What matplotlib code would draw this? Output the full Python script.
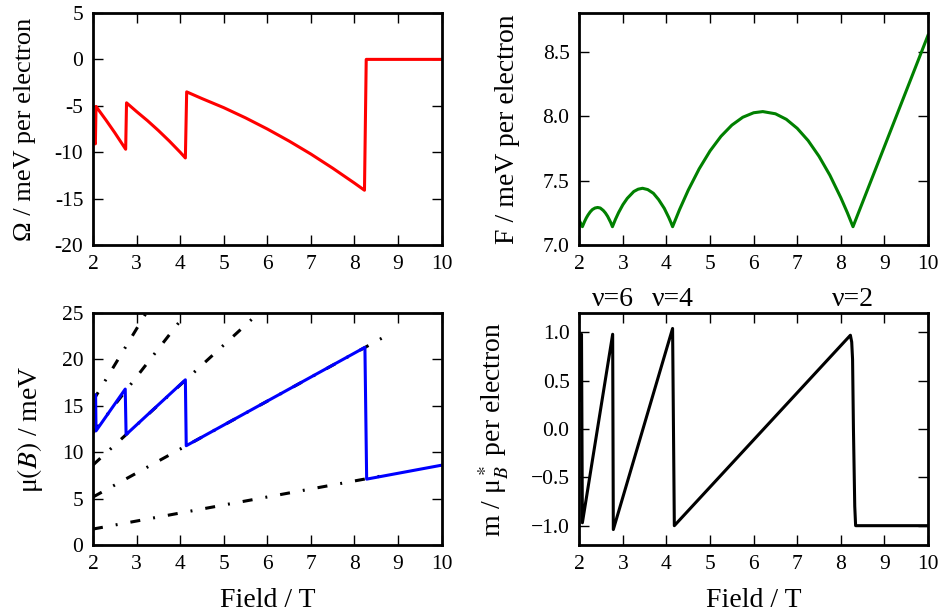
"""
Magneto-oscillations of a 2D electron gas at fixed density:
grand potential, free energy, chemical potential and magnetisation
as a function of the applied field.
"""

import matplotlib

matplotlib.use("Agg")
import matplotlib.pyplot as plt
from matplotlib import ticker


# ---------------------------------------------------------
# Data
# ---------------------------------------------------------
# Grand potential (meV per electron)
omega_field = [2.00, 2.055, 2.07, 2.30, 2.50, 2.75, 2.77, 3.00, 3.25, 3.50, 3.75, 4.00,
               4.12, 4.15, 4.50, 5.00, 5.50, 6.00, 6.50, 7.00, 7.50, 8.00, 8.23, 8.27, 10.0]
omega_vals = [-8.6, -9.1, -5.07, -6.55, -7.90, -9.68, -4.68, -5.62, -6.60, -7.66, -8.79, -10.0,
              -10.62, -3.50, -4.22, -5.20, -6.30, -7.50, -8.80, -10.2, -11.72, -13.33, -14.1, 0.0, 0.0]

# Free energy (meV per electron)
free_field = [2.00, 2.07, 2.12, 2.16, 2.20, 2.25, 2.30, 2.36, 2.42, 2.48, 2.55, 2.60, 2.65, 2.72, 2.76,
              2.83, 2.90, 3.00, 3.10, 3.25, 3.35, 3.45, 3.57, 3.70, 3.82, 3.95, 4.05, 4.10, 4.14,
              4.30, 4.50, 4.75, 5.00, 5.25, 5.50, 5.75, 6.00, 6.21, 6.50,
              6.75, 7.00, 7.25, 7.50, 7.75, 8.00, 8.15, 8.28, 10.0]
free_vals = [7.19, 7.142, 7.182, 7.210, 7.233, 7.257, 7.275, 7.287, 7.291, 7.287, 7.268, 7.248, 7.222, 7.175, 7.142,
             7.200, 7.251, 7.313, 7.362, 7.415, 7.433, 7.440, 7.430, 7.401, 7.352, 7.284, 7.215, 7.176, 7.142,
             7.275, 7.426, 7.591, 7.730, 7.843, 7.930, 7.991, 8.026, 8.035, 8.018,
             7.975, 7.905, 7.810, 7.688, 7.541, 7.367, 7.251, 7.142, 8.626]

# Chemical potential (meV)
mu_field = [2.00, 2.06, 2.07, 2.74, 2.76, 4.12, 4.14, 8.24, 8.28, 10.0]
mu_vals = [15.6, 16.2, 12.3, 16.8, 11.9, 17.8, 10.7, 21.3, 7.1, 8.6]

# Landau level energies (meV), straight lines between two field values
ll_field = [2.0, 8.75]
ll_start = [1.72, 5.17, 8.62, 12.08, 15.53]
ll_end = [7.55, 22.6, 37.7, 52.8, 67.9]

# Magnetisation (mu_B* per electron)
mag_field = [2.00, 2.05, 2.07, 2.765, 2.78, 4.14, 4.18, 8.22, 8.25, 8.27, 8.29, 8.32, 8.34, 10.0]
mag_vals = [0.3, 0.98, -0.97, 0.98, -1.04, 1.04, -1.0, 0.97, 0.90, 0.72, 0.0, -0.8, -1.0, -1.0]

# Filling factor labels
nu_field = [2.76, 4.14, 8.28]
nu_labels = ["ν=6", "ν=4", "ν=2"]

field_ticks = list(range(2, 11))


# ---------------------------------------------------------
# Styling
# ---------------------------------------------------------
plt.rcParams["font.family"] = ["Liberation Serif", "DejaVu Serif"]
plt.rcParams["mathtext.fontset"] = "stix"
plt.rcParams["lines.scale_dashes"] = False

TICK_SIZE = 15.5
LABEL_SIZE = 20
LW = 2.2


def style_axes(ax):
    ax.set_xlim(2, 10)
    ax.set_xticks(field_ticks)
    ax.tick_params(direction="in", top=True, right=True, length=7.5, width=1.0,
                   labelsize=TICK_SIZE, pad=7)
    for spine in ax.spines.values():
        spine.set_linewidth(2.0)


# ---------------------------------------------------------
# Panels
# ---------------------------------------------------------
def plot_omega(ax):
    ax.plot(omega_field, omega_vals, color="#ff0000", lw=LW)
    style_axes(ax)
    ax.set_ylim(-20, 5)
    ax.set_yticks([-20, -15, -10, -5, 0, 5])
    ax.yaxis.set_major_formatter(ticker.FormatStrFormatter("%d"))
    ax.set_ylabel("Ω / meV per electron", fontsize=19)
    ax.yaxis.set_label_coords(-0.163, 0.5)


def plot_free_energy(ax):
    ax.plot(free_field, free_vals, color="#008000", lw=LW)
    style_axes(ax)
    ax.set_ylim(7.0, 8.8)
    ax.set_yticks([7.0, 7.5, 8.0, 8.5])
    ax.yaxis.set_major_formatter(ticker.FormatStrFormatter("%.1f"))
    ax.set_ylabel("F / meV per electron", fontsize=LABEL_SIZE)
    ax.yaxis.set_label_coords(-0.171, 0.5)


def plot_mu(ax):
    for y0, y1 in zip(ll_start, ll_end):
        ax.plot(ll_field, [y0, y1], color="black", lw=LW,
                linestyle=(0, (7.2, 9.4, 1.4, 9.4)))
    ax.plot(mu_field, mu_vals, color="#0000ff", lw=LW)
    style_axes(ax)
    ax.set_ylim(0, 25)
    ax.set_yticks([0, 5, 10, 15, 20, 25])
    ax.set_ylabel(r"μ$(B)$ / meV", fontsize=LABEL_SIZE)
    ax.yaxis.set_label_coords(-0.138, 0.5)
    ax.set_xlabel("Field / T", fontsize=LABEL_SIZE, labelpad=10)


def plot_magnetisation(ax):
    ax.plot(mag_field, mag_vals, color="black", lw=LW)
    style_axes(ax)
    ax.set_ylim(-1.2, 1.2)
    ax.set_yticks([-1.0, -0.5, 0.0, 0.5, 1.0])
    ax.set_ylabel(r"m / μ$_B^*$ per electron", fontsize=LABEL_SIZE)
    ax.yaxis.set_label_coords(-0.197, 0.5)
    ax.set_xlabel("Field / T", fontsize=LABEL_SIZE, labelpad=10)
    for x, label in zip(nu_field, nu_labels):
        ax.text(x, 1.056, label, transform=ax.get_xaxis_transform(),
                ha="center", va="center", fontsize=20)


# ---------------------------------------------------------
# MAIN
# ---------------------------------------------------------
def main():
    fig, axes = plt.subplots(2, 2, figsize=(9.42, 6.15), dpi=100)
    fig.subplots_adjust(left=0.0987, right=0.9851, bottom=0.1138, top=0.9789,
                        wspace=0.395, hspace=0.293)

    plot_omega(axes[0, 0])
    plot_free_energy(axes[0, 1])
    plot_mu(axes[1, 0])
    plot_magnetisation(axes[1, 1])

    fig.savefig("out.png", dpi=100)
    plt.close(fig)


if __name__ == "__main__":
    main()
